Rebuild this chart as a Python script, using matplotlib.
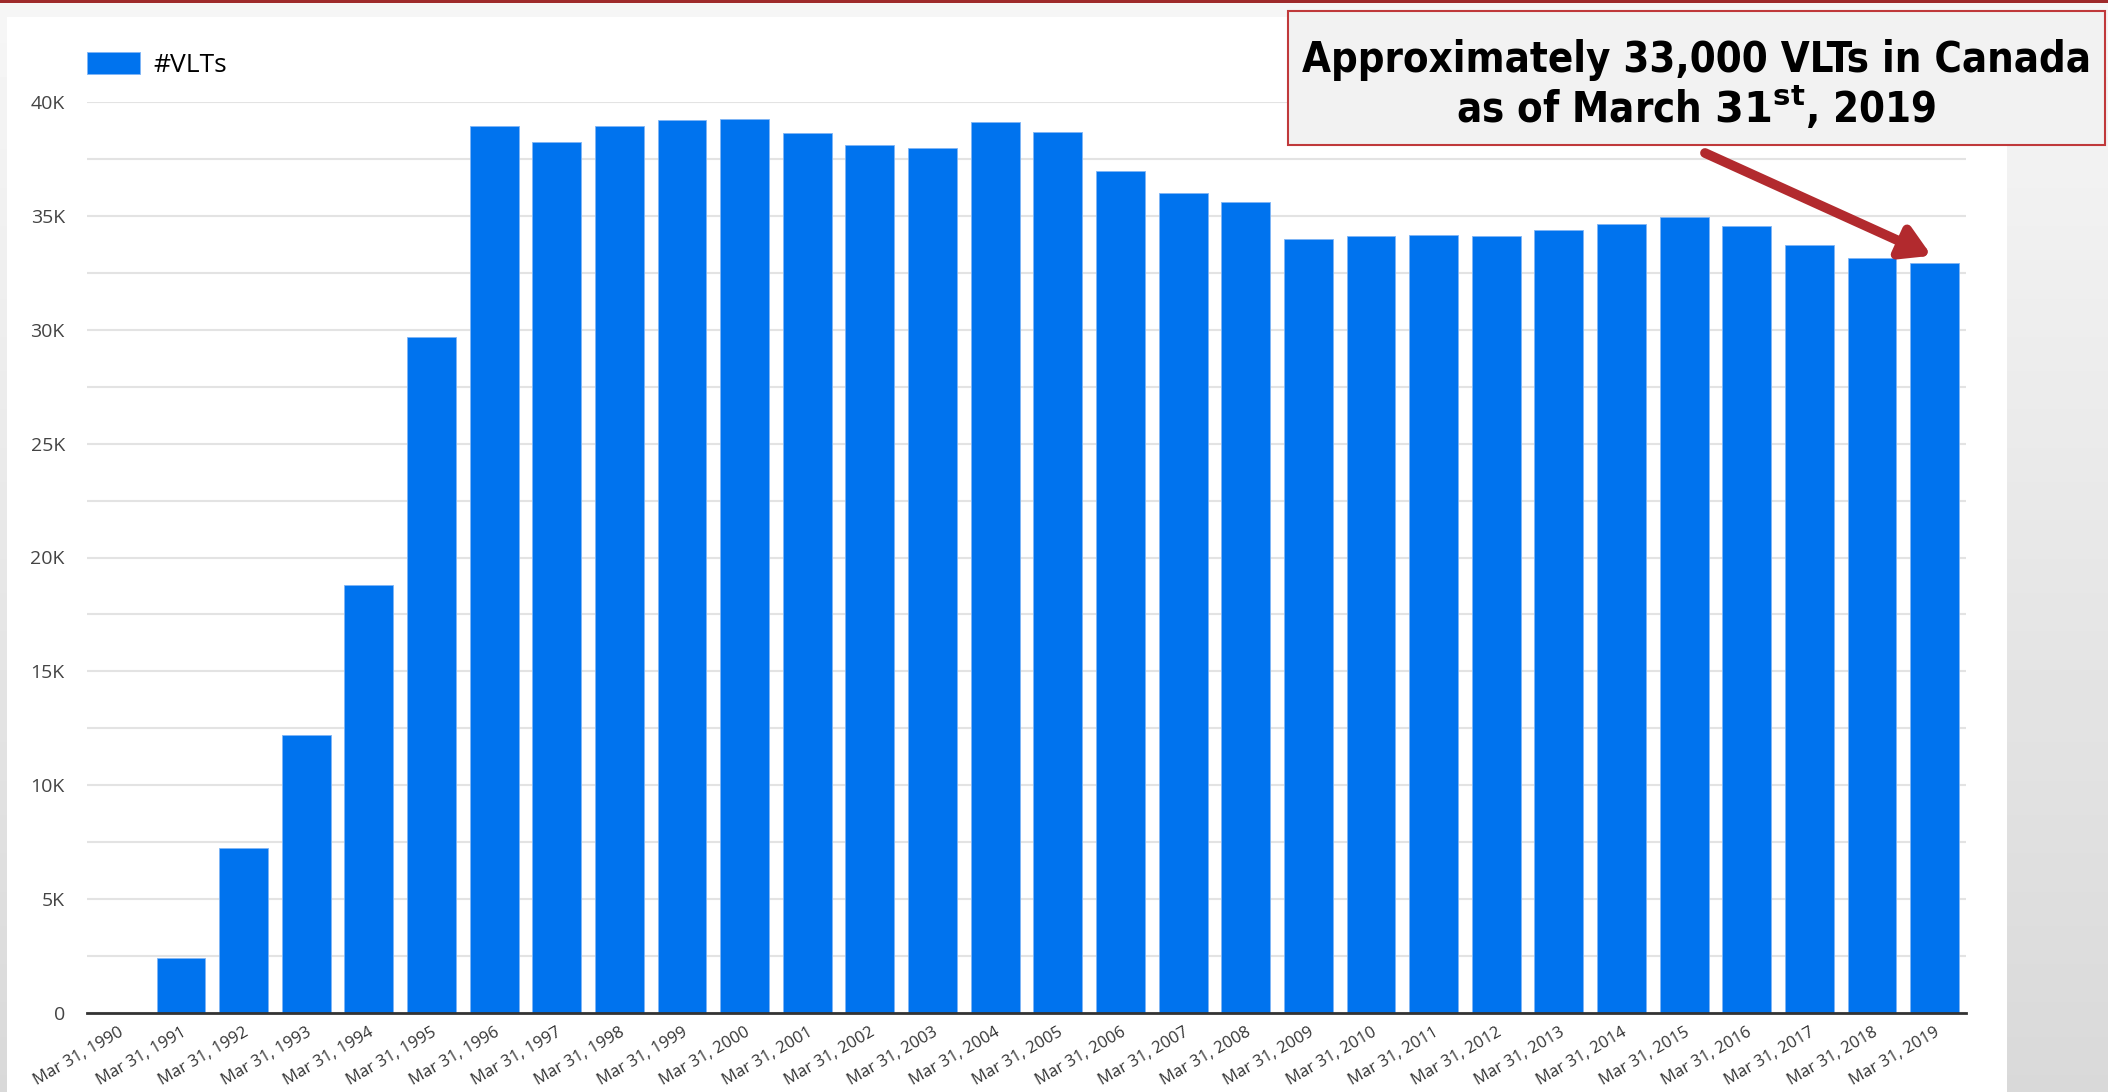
import matplotlib
matplotlib.use("Agg")
import matplotlib.pyplot as plt
from matplotlib.patches import Rectangle
from matplotlib import font_manager
import numpy as np

W, H, DPI = 2108, 1092, 100

years = list(range(1990, 2020))
labels = [f"Mar 31, {y}" for y in years]
vlts = [0, 2420, 7250, 12200, 18800, 29700, 38950, 38250, 38950, 39200,
        39250, 38650, 38100, 38000, 39100, 38700, 36950, 36000, 35600, 34000,
        34100, 34150, 34100, 34400, 34650, 34950, 34550, 33700, 33150, 32950]

BAR_BLUE = '#0073EE'
RED = '#B22A2E'
TICK_FONT = 'Open Sans'

# narrow bold font for the callout, if one is around
fonts = font_manager.fontManager.ttflist
names = {f.name for f in fonts}
if 'Liberation Sans Narrow' in names:
    CALL_FONT, CALL_STRETCH, CALL_SIZE = 'Liberation Sans Narrow', 'normal', 35
elif any(f.name == 'DejaVu Sans' and f.stretch == 'condensed' and f.weight in (700, 'bold') for f in fonts):
    CALL_FONT, CALL_STRETCH, CALL_SIZE = 'DejaVu Sans', 'condensed', 30
else:
    CALL_FONT, CALL_STRETCH, CALL_SIZE = 'Liberation Sans', 'normal', 31

plt.rcParams['mathtext.fontset'] = 'custom'
plt.rcParams['mathtext.rm'] = CALL_FONT + ':bold'
plt.rcParams['mathtext.default'] = 'rm'


def px(x0, y0, x1, y1):
    """pixel box (top-left origin) -> figure fraction rect"""
    return [x0 / W, 1 - y1 / H, (x1 - x0) / W, (y1 - y0) / H]


fig = plt.figure(figsize=(W / DPI, H / DPI), dpi=DPI)

# background gradient + white card
bg = fig.add_axes([0, 0, 1, 1], zorder=-10)
grad = np.linspace(0.965, 0.85, 256).reshape(-1, 1)
bg.imshow(np.repeat(grad, 2, axis=1), cmap='gray', vmin=0, vmax=1,
          aspect='auto', extent=[0, W, H, 0])
bg.set_xlim(0, W)
bg.set_ylim(H, 0)
bg.axis('off')
bg.add_patch(Rectangle((7, 17), 2007 - 7, H - 17, facecolor='white', edgecolor='none'))
bg.add_patch(Rectangle((0, 0), W, 2.5, facecolor='#9E2A2B', edgecolor='none'))

ax = fig.add_axes(px(87, 102, 1966, 1013))
x = np.arange(len(years))
ax.bar(x, vlts, width=0.78, color=BAR_BLUE, edgecolor='#7FB5F5', linewidth=0.6,
       label='#VLTs', zorder=3)
ax.set_xlim(-0.5, len(years) - 0.5)
ax.set_ylim(0, 40000)

ax.set_yticks(np.arange(0, 40001, 5000))
ax.set_yticklabels(['0'] + [f"{v}K" for v in range(5, 41, 5)],
                   fontsize=14, color='#444444', family=TICK_FONT)
ax.set_yticks(np.arange(2500, 40000, 5000), minor=True)
ax.grid(axis='y', which='both', color='#E3E3E3', linewidth=1.5, zorder=0)
ax.tick_params(axis='y', which='both', length=0, pad=16)

ax.set_xticks(x)
ax.set_xticklabels(labels, rotation=30, ha='right', rotation_mode='anchor',
                   fontsize=12, color='#333333', family=TICK_FONT)
ax.tick_params(axis='x', length=0, pad=8)

for s in ['top', 'right', 'left']:
    ax.spines[s].set_visible(False)
ax.spines['bottom'].set_color('#333333')
ax.spines['bottom'].set_linewidth(2)
ax.spines['bottom'].set_zorder(4)

ax.legend(loc='lower left', bbox_to_anchor=(87 / W, 1 - 78 / H), bbox_transform=fig.transFigure,
          frameon=False, handlelength=2.0, handleheight=0.95, handletextpad=0.5,
          borderpad=0, borderaxespad=0, prop={'family': TICK_FONT, 'size': 19})

# callout box
fig.patches.append(Rectangle((1288 / W, 1 - 145 / H), (2105 - 1288) / W, (145 - 11) / H,
                             transform=fig.transFigure, facecolor='#F2F2F2',
                             edgecolor='#C0393B', linewidth=1.5, zorder=5))
fig.text(1696 / W, 1 - 60 / H, "Approximately 33,000 VLTs in Canada", ha='center', va='center',
         fontsize=CALL_SIZE, fontweight='bold', family=CALL_FONT, fontstretch=CALL_STRETCH, zorder=6)
fig.text(1696 / W, 1 - 108 / H, r"as of March $31^{\mathrm{st}}$, 2019", ha='center', va='center',
         fontsize=CALL_SIZE, fontweight='bold', family=CALL_FONT, fontstretch=CALL_STRETCH, zorder=6)

# arrow to last bar
ax.annotate('', xy=(28.95, 33250), xycoords='data',
            xytext=(1705 / W, 1 - 153 / H), textcoords='figure fraction',
            arrowprops=dict(arrowstyle='-|>,head_length=1.7,head_width=1.0', color=RED,
                            linewidth=7, shrinkA=0, shrinkB=0),
            zorder=6, annotation_clip=False)

fig.savefig('out.png', dpi=DPI)
